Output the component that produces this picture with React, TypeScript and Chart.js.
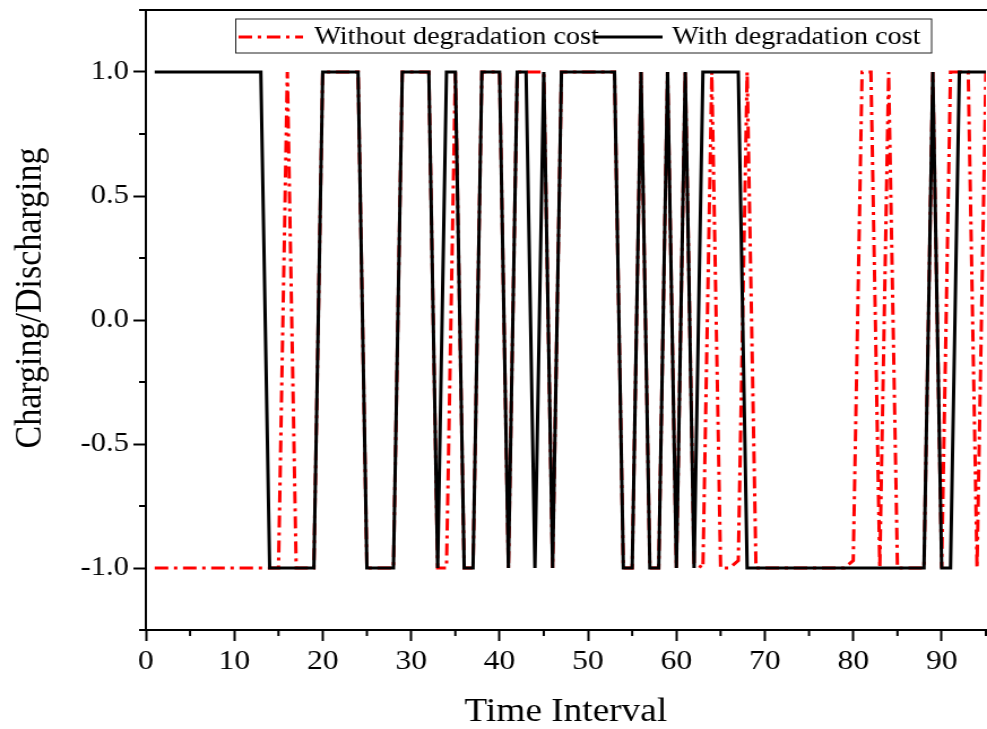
import React, { useEffect, useRef } from 'react';
import { Chart, registerables } from 'chart.js';

Chart.register(...registerables);

// ---- data ----
const timeInterval = [
  1, 2, 3, 4, 5, 6, 7, 8, 9, 10, 11, 12, 13, 14, 15, 16, 17, 18, 19, 20,
  21, 22, 23, 24, 25, 26, 27, 28, 29, 30, 31, 32, 33, 34, 35, 36, 37, 38, 39, 40,
  41, 42, 43, 44, 45, 46, 47, 48, 49, 50, 51, 52, 53, 54, 55, 56, 57, 58, 59, 60,
  61, 62, 63, 64, 65, 66, 67, 68, 69, 70, 71, 72, 73, 74, 75, 76, 77, 78, 79, 80,
  81, 82, 83, 84, 85, 86, 87, 88, 89, 90, 91, 92, 93, 94, 95,
];

const withoutDegradation = [
  -1, -1, -1, -1, -1, -1, -1, -1, -1, -1, -1, -1, -1, -1, -1, 1, -1, -1, -1, 1,
  1, 1, 1, 1, -1, -1, -1, -1, 1, 1, 1, 1, -1, -1, 1, -1, -1, 1, 1, 1,
  -1, 1, 1, 1, 1, -1, 1, 1, 1, 1, 1, 1, 1, -1, -1, 1, -1, -1, 1, -1,
  1, -0.98, -1, 1, -1, -1, -0.97, 1, -1, -1, -1, -1, -1, -1, -1, -1, -1, -1, -1, -0.97,
  1, 1, -1, 1, -1, -1, -1, -1, 1, -1, 1, 1, 1, -1, 1,
];

const withDegradation = [
  1, 1, 1, 1, 1, 1, 1, 1, 1, 1, 1, 1, 1, -1, -1, -1, -1, -1, -1, 1,
  1, 1, 1, 1, -1, -1, -1, -1, 1, 1, 1, 1, -1, 1, 1, -1, -1, 1, 1, 1,
  -1, 1, 1, -1, 1, -1, 1, 1, 1, 1, 1, 1, 1, -1, -1, 1, -1, -1, 1, -1,
  1, -1, 1, 1, 1, 1, 1, -1, -1, -1, -1, -1, -1, -1, -1, -1, -1, -1, -1, -1,
  -1, -1, -1, -1, -1, -1, -1, -1, 1, -1, -1, 1, 1, 1, 1,
];

const seriesNames = ['Without degradation cost', 'With degradation cost'];

const xMajorTicks = [0, 10, 20, 30, 40, 50, 60, 70, 80, 90];
const xTickLabels = ['0', '10', '20', '30', '40', '50', '60', '70', '80', '90'];
const xMinorTicks = [5, 15, 25, 35, 45, 55, 65, 75, 85, 95];
const yMajorTicks = [-1, -0.5, 0, 0.5, 1];
const yTickLabels = ['-1.0', '-0.5', '0.0', '0.5', '1.0'];
const yMinorTicks = [-1.25, -0.75, -0.25, 0.25, 0.75, 1.25];

const xTitle = 'Time Interval';
const yTitle = 'Charging/Discharging';

// ---- geometry (internal canvas is stretched horizontally on display) ----
const DISPLAY_W = 987;
const DISPLAY_H = 729;
const INTERNAL_W = 873;
const FONT = "'Liberation Serif', 'Times New Roman', serif";

const zeroPadding = (s: any) => {
  s.paddingTop = 0;
  s.paddingBottom = 0;
  s.paddingLeft = 0;
  s.paddingRight = 0;
};

const decorPlugin = {
  id: 'decor',
  afterDraw(chart: any) {
    const ctx = chart.ctx as CanvasRenderingContext2D;
    const { left, right, top, bottom } = chart.chartArea;
    const xs = chart.scales.x;
    const ys = chart.scales.y;
    ctx.save();
    ctx.strokeStyle = '#000';
    ctx.lineWidth = 2;
    // frame top
    ctx.beginPath();
    ctx.moveTo(left, top);
    ctx.lineTo(right + 1, top);
    ctx.stroke();
    // minor ticks
    xMinorTicks.forEach((v) => {
      const px = xs.getPixelForValue(v);
      ctx.beginPath();
      ctx.moveTo(px, bottom);
      ctx.lineTo(px, bottom + 6);
      ctx.stroke();
    });
    yMinorTicks.forEach((v) => {
      const py = ys.getPixelForValue(v);
      ctx.beginPath();
      ctx.moveTo(left, py);
      ctx.lineTo(left - 6, py);
      ctx.stroke();
    });

    // y title
    ctx.fillStyle = '#000';
    ctx.font = `34px ${FONT}`;
    ctx.textAlign = 'center';
    ctx.textBaseline = 'middle';
    ctx.save();
    ctx.translate(27.5, 298);
    ctx.rotate(-Math.PI / 2);
    ctx.fillText(yTitle, 0, 0);
    ctx.restore();

    // legend
    const bx1 = 208.5, bx2 = 824, by1 = 19, by2 = 53;
    const ly = 37;
    ctx.fillStyle = '#fff';
    ctx.fillRect(bx1, by1, bx2 - bx1, by2 - by1);
    ctx.lineWidth = 1;
    ctx.strokeStyle = '#222';
    ctx.strokeRect(bx1, by1, bx2 - bx1, by2 - by1);

    ctx.lineWidth = 3;
    ctx.strokeStyle = '#ff0000';
    ctx.setLineDash([12, 5, 3, 5]);
    ctx.beginPath();
    ctx.moveTo(211, ly);
    ctx.lineTo(268, ly);
    ctx.stroke();
    ctx.setLineDash([]);
    ctx.strokeStyle = '#000';
    ctx.beginPath();
    ctx.moveTo(526, ly);
    ctx.lineTo(586, ly);
    ctx.stroke();

    ctx.fillStyle = '#000';
    ctx.font = `25px ${FONT}`;
    ctx.textAlign = 'left';
    ctx.textBaseline = 'middle';
    ctx.fillText(seriesNames[0], 278, ly);
    ctx.fillText(seriesNames[1], 594.5, ly);
    ctx.restore();
  },
};

export default function App() {
  const ref = useRef<HTMLCanvasElement | null>(null);

  useEffect(() => {
    document.body.style.margin = '0';
    const canvas = ref.current;
    if (!canvas) return;
    const chart = new Chart(canvas, {
      type: 'line',
      data: {
        datasets: [
          {
            label: seriesNames[1],
            data: timeInterval.map((t, i) => ({ x: t, y: withDegradation[i] })),
            borderColor: '#000000',
            borderWidth: 3,
            pointRadius: 0,
            fill: false,
            tension: 0,
          },
          {
            label: seriesNames[0],
            data: timeInterval.map((t, i) => ({ x: t, y: withoutDegradation[i] })),
            borderColor: '#ff0000',
            borderWidth: 3,
            borderDash: [12, 5, 3, 5],
            pointRadius: 0,
            fill: false,
            tension: 0,
          },
        ],
      },
      options: {
        responsive: false,
        animation: false,
        devicePixelRatio: 1,
        layout: { padding: { top: 10, right: 1, left: 0, bottom: 0 } },
        plugins: { legend: { display: false }, tooltip: { enabled: false } },
        scales: {
          x: {
            type: 'linear',
            min: 0,
            max: 95,
            afterBuildTicks: (s: any) => {
              s.ticks = xMajorTicks.map((v) => ({ value: v }));
            },
            afterFit: (s: any) => {
              s.height = 99;
              zeroPadding(s);
            },
            grid: { drawOnChartArea: false, tickLength: 11, tickWidth: 2, tickColor: '#000' },
            border: { color: '#000', width: 2 },
            ticks: {
              color: '#000',
              font: { family: FONT, size: 28 },
              padding: 4,
              maxRotation: 0,
              autoSkip: false,
              callback: (_v: any, i: number) => xTickLabels[i],
            },
            title: {
              display: true,
              text: xTitle,
              color: '#000',
              font: { family: FONT, size: 33, lineHeight: 1 },
              padding: { top: 0, bottom: 0 },
            },
          },
          y: {
            type: 'linear',
            min: -1.25,
            max: 1.25,
            afterBuildTicks: (s: any) => {
              s.ticks = yMajorTicks.map((v) => ({ value: v }));
            },
            afterFit: (s: any) => {
              s.width = 129;
              zeroPadding(s);
            },
            grid: { drawOnChartArea: false, tickLength: 11, tickWidth: 2, tickColor: '#000' },
            border: { color: '#000', width: 2 },
            ticks: {
              color: '#000',
              font: { family: FONT, size: 27 },
              padding: 4,
              autoSkip: false,
              callback: (_v: any, i: number) => yTickLabels[i],
            },
          },
        },
      },
      plugins: [decorPlugin],
    });
    return () => chart.destroy();
  }, []);

  return (
    <div style={{ width: DISPLAY_W, height: DISPLAY_H, position: 'relative', overflow: 'hidden' }}>
      <canvas
        ref={ref}
        width={INTERNAL_W}
        height={DISPLAY_H}
        style={{ width: `${DISPLAY_W}px`, height: `${DISPLAY_H}px`, display: 'block' }}
      />
    </div>
  );
}
